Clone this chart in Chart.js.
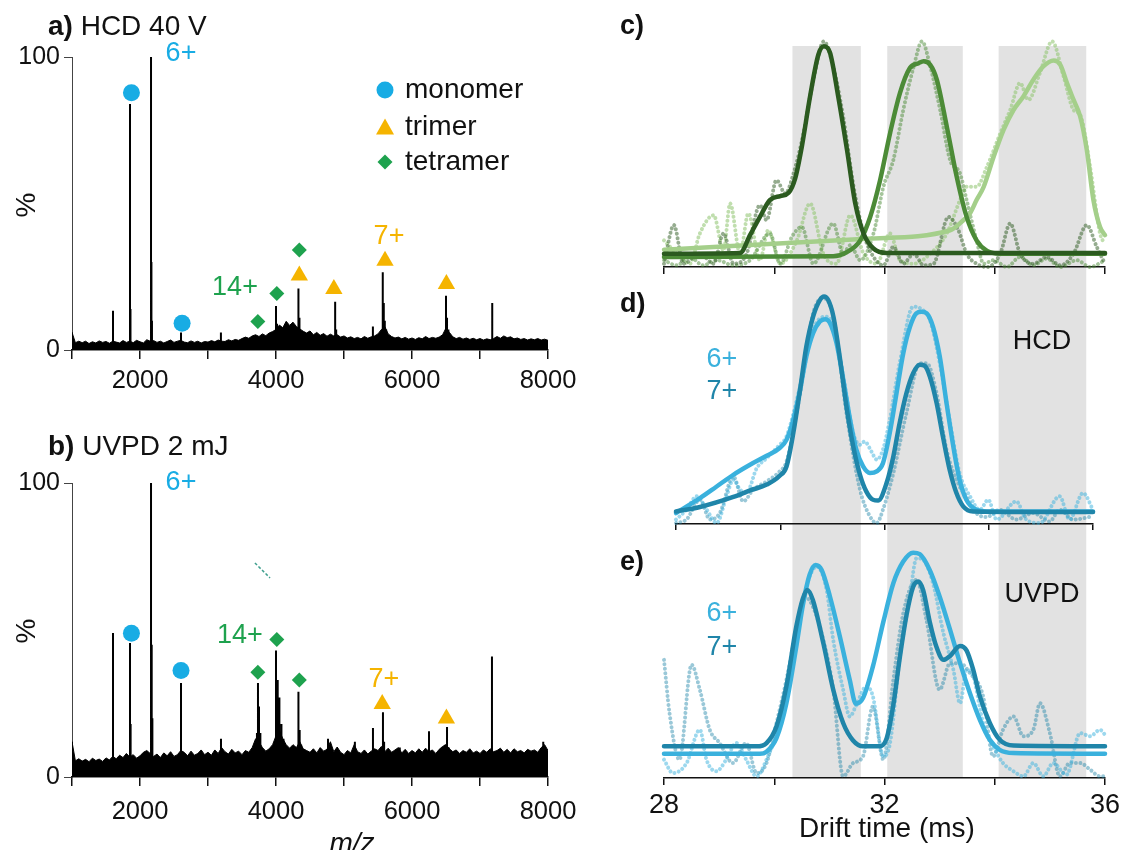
<!DOCTYPE html>
<html>
<head>
<meta charset="utf-8">
<script src="https://cdn.jsdelivr.net/npm/chart.js@4.4.1/dist/chart.umd.min.js"></script>
<style>
  body { margin: 0; background: #fff; width: 1122px; height: 850px; position: relative; overflow: hidden; }
  canvas { position: absolute; }
</style>
</head>
<body>
<canvas id="specA" width="600" height="410" style="left:0;top:0"></canvas>
<canvas id="specB" width="600" height="430" style="left:0;top:420px"></canvas>
<canvas id="atdC" width="522" height="290" style="left:600px;top:0"></canvas>
<canvas id="atdD" width="522" height="240" style="left:600px;top:290px"></canvas>
<canvas id="atdE" width="522" height="320" style="left:600px;top:530px"></canvas>
<script>
// === Données : spectres de masse (intensité en %) ===
const mzMin = 1000, mzMax = 8000, noiseStep = 50;

// bruit de fond, un point tous les 50 m/z de 1000 à 8000
const noiseA = [
  6, 2.5, 3, 2.5, 3, 2.2, 2.8, 2.4, 3.1, 2.6,
  2.9, 2.3, 3, 2.7, 2.4, 3.2, 2.6, 3, 2.5, 3.3,
  2.8, 2.4, 3.5, 3, 3.2, 2.6, 3, 2.4, 2.9, 3.4,
  2.6, 3, 3.3, 2.7, 2.5, 3.1, 2.6, 3, 2.4, 2.9,
  2.7, 3.2, 2.8, 3.4, 3, 2.9, 3.5, 3.1, 3.6, 3.3,
  3.9, 4.4, 4, 4.8, 5.2, 4.6, 5.5, 4.9, 5.8, 6.3,
  7, 8.5, 7.6, 9.8, 8.4, 9.5, 8, 7.2, 6.4, 5.8,
  6.5, 5.2, 6, 5, 5.6, 4.7, 5.4, 4.8, 5.2, 4.4,
  4.8, 4.1, 4.5, 3.9, 4.3, 3.8, 4.6, 4, 4.5, 4.8,
  5.5, 7, 8, 5.5, 4.6, 4.1, 4.4, 3.8, 4.3, 3.7,
  4.1, 3.6, 4.2, 3.8, 4.6, 3.9, 4.3, 4, 4.4, 5.2,
  7.5, 6, 4.5, 3.9, 4.3, 3.7, 4.1, 3.6, 4, 3.5,
  3.9, 3.4, 3.8, 3.5, 3.9, 4.6, 4, 4.8, 4.2, 4.5,
  3.8, 4.1, 3.6, 3.9, 3.4, 3.8, 3.5, 3.9, 3.4, 3.7,
  3.3
];
const noiseB = [
  12, 5.5, 6.2, 5.4, 6, 5.2, 6.4, 5.6, 6.1, 5.3,
  6.5, 5.8, 7, 6.2, 7.4, 6.6, 8, 6.8, 7.6, 6.4,
  7.2, 8.4, 9, 8, 7, 7.8, 6.6, 8.2, 7.2, 8.6,
  7, 7.6, 9, 8.4, 7.2, 8.8, 7.4, 8, 9.2, 7.6,
  8.4, 7.4, 9.2, 8, 10, 8.6, 7.8, 9.4, 8.2, 8.8,
  7.6, 9, 8.4, 10, 13, 12, 10, 8.8, 9.6, 11,
  14, 16, 13, 11, 9.8, 11, 10, 12, 9.6, 9,
  8.4, 9.6, 8.2, 10, 8.8, 9.4, 12, 8.6, 10.2, 8.4,
  7.6, 9, 8.2, 11, 8.6, 8, 9.2, 7.8, 8.8, 9.6,
  9, 10.4, 8.6, 9.8, 8.4, 9.2, 10, 8.2, 9.4, 8,
  9, 8.2, 9.6, 8.4, 9.8, 8.6, 9.2, 8, 9.4, 10.4,
  11, 9.6, 8.6, 9.2, 8, 9, 8.4, 9.6, 8.2, 8.8,
  8, 9.2, 8.4, 9.6, 8.6, 9, 9.8, 8.4, 9.4, 8.2,
  9.6, 8.6, 9, 8.2, 9.4, 8.8, 9.2, 8.4, 10, 11,
  9
];

// pics fins [m/z, %]
const sticksA = [[1000, 6], [1603, 13.4], [1853, 84], [1860, 14], [2162, 100], [2168, 30], [2176, 10],
  [2603, 6], [3190, 6], [4000, 15], [4015, 9], [4330, 21], [4345, 11], [4870, 16.5], [4885, 7],
  [5425, 8], [5570, 26.5], [5585, 16], [5600, 10], [5620, 7], [6500, 18.5], [6515, 11], [6535, 7], [7180, 16]];
const sticksB = [[1000, 12], [1603, 49], [1853, 45.6], [1862, 18], [2162, 100], [2172, 45], [2182, 20],
  [2603, 32], [3191, 13], [3720, 15], [3735, 32], [3750, 24], [3770, 15], [3790, 10],
  [4000, 43], [4025, 33], [4050, 27], [4080, 18], [4110, 13], [4330, 29], [4348, 16], [4370, 11],
  [4765, 13], [5160, 12], [5426, 16.7], [5573, 22], [5590, 12], [5820, 10], [6250, 15.6],
  [6490, 11], [6515, 17], [6540, 10], [7176, 41], [7930, 12]];

// symboles d'attribution [m/z, %]
const monomerA = [[1874, 87.8], [2190, 103.3], [2619, 9.1]];
const trimerA = [[4343, 25.4], [4851, 20.8], [5603, 30.5], [6506, 22.5]];
const tetramerA = [[3733, 9.7], [4012, 19.3], [4343, 34.1]];
const monomerB = [[2190, 103], [1874, 48.9], [2603, 36.2]];
const trimerB = [[5562, 24.8], [6506, 19.9]];
const tetramerB = [[3733, 35.6], [4012, 46.8], [4343, 33]];
const strayB = [[3690, 72.8], [3912, 67.7]];

// états de charge [texte, m/z, %, famille]
const chargesA = [['6+', 2603, 101.1, 'mono'], ['14+', 3397, 21.2, 'tetra'], ['7+', 5662, 38.6, 'tri']];
const chargesB = [['6+', 2603, 100.3, 'mono'], ['14+', 3470, 48, 'tetra'], ['7+', 5588, 33.3, 'tri']];

// === Données : temps de dérive [ms, intensité relative] ===
const cFitDark = [[28.00, 5.7], [29.38, 6.0], [29.56, 13.6], [29.74, 21.4], [29.92, 28.6], [30.11, 30.3],
  [30.26, 31.7], [30.38, 37.9], [30.50, 51.4], [30.65, 72.9], [30.80, 90.7], [30.90, 94.3], [31.01, 91.7],
  [31.16, 72.9], [31.32, 50.0], [31.47, 27.1], [31.62, 14.3], [31.80, 7.9], [32.04, 6.0], [36.00, 6.0]];
const cFitMid = [[28.00, 4.3], [31.07, 4.6], [31.32, 6.4], [31.56, 11.4], [31.74, 21.4], [31.92, 37.1],
  [32.10, 57.1], [32.28, 74.3], [32.46, 85.0], [32.62, 87.1], [32.71, 87.9], [32.83, 86.4], [32.95, 80.0],
  [33.13, 60.0], [33.31, 38.6], [33.49, 21.4], [33.67, 11.4], [33.86, 6.9], [34.10, 5.7], [36.00, 5.7]];
const cFitLight = [[28.00, 7.4], [31.68, 12.1], [33.19, 15.7], [33.43, 20], [33.55, 22.9], [33.67, 28.6],
  [33.80, 34.3], [33.98, 47.1], [34.16, 58.6], [34.34, 67.1], [34.52, 72.9], [34.70, 80], [34.88, 85.7],
  [35.07, 88.3], [35.19, 86.4], [35.31, 78.6], [35.43, 71.4], [35.55, 64.3], [35.67, 50], [35.79, 28.6],
  [35.91, 17.1], [36.00, 13.6]];
const cRawDark = [[28.00, 1.4], [28.18, 17.9], [28.35, 1.4], [28.65, 5.7], [28.90, 1.4], [29.08, 14.3],
  [29.26, 1.4], [29.50, 5.7], [29.74, 26.4], [29.86, 20], [30.04, 37.1], [30.20, 31.4], [30.35, 40],
  [30.53, 57.1], [30.71, 80], [30.90, 96.4], [31.07, 85.7], [31.25, 64.3], [31.44, 34.3], [31.62, 14.3],
  [31.80, 4.3], [31.98, 0.7], [32.16, 8.6], [32.34, 1.4], [32.53, 5.7], [32.71, 0.7], [32.89, 1.4],
  [33.16, 21.4], [33.34, 15.7], [33.49, 5.7], [33.67, 1.4], [33.86, 0], [34.10, 5.7], [34.28, 18.6],
  [34.46, 5.7], [34.70, 1.4], [34.94, 4.3], [35.19, 0.7], [35.43, 5.7], [35.67, 17.9], [35.85, 8.6], [36.00, 1.4]];
const cRawMid = [[28.00, 2.9], [28.23, 0.7], [28.47, 4.3], [28.71, 0.7], [28.96, 2.9], [29.26, 0.7],
  [29.56, 2.9], [29.92, 14.3], [30.11, 1.4], [30.32, 12.9], [30.50, 17.1], [30.71, 1.4], [31.07, 18.6],
  [31.25, 5.7], [31.38, 9.3], [31.56, 2.9], [31.80, 14.3], [31.98, 34.3], [32.16, 45.7], [32.34, 67.1],
  [32.53, 85.7], [32.68, 96.4], [32.83, 85.7], [33.01, 67.1], [33.19, 45.7], [33.37, 40], [33.49, 28.6],
  [33.67, 11.4], [33.80, 1.4], [33.98, 2.9], [34.22, 0], [34.46, 4.3], [34.70, 0.7], [34.94, 3.6],
  [35.19, 0], [35.49, 2.9], [35.73, 0], [36.00, 2.9]];
const cRawLight = [[28.00, 11.4], [28.23, 5.7], [28.47, 1.4], [28.65, 14.3], [28.90, 22.1], [29.08, 7.1],
  [29.20, 27.1], [29.38, 5.7], [29.53, 22.9], [29.74, 2.9], [29.89, 15.7], [30.11, 1.4], [30.41, 11.4],
  [30.65, 27.1], [30.89, 5.7], [31.13, 1.4], [31.38, 22.1], [31.62, 5.7], [31.86, 1.4], [32.10, 14.3],
  [32.28, 2.9], [32.53, 1.4], [32.83, 5.7], [33.13, 14.3], [33.37, 28.6], [33.49, 34.3], [33.67, 34.3],
  [33.86, 42.9], [34.10, 57.1], [34.28, 67.1], [34.46, 78.6], [34.61, 71.4], [34.82, 82.9], [35.04, 96.4],
  [35.25, 81.4], [35.43, 67.1], [35.55, 65], [35.73, 42.9], [35.91, 14.3], [36.00, 10]];

const dFit6 = [[28.00, 4.7], [28.46, 11.1], [28.78, 16.1], [29.10, 21.1], [29.42, 25.4], [29.74, 29.3],
  [29.99, 32.6], [30.12, 36.1], [30.25, 44.7], [30.38, 57.6], [30.50, 71.9], [30.63, 81.9], [30.76, 86.9],
  [30.86, 87.9], [30.95, 86.4], [31.08, 77.6], [31.21, 61.9], [31.34, 44.7], [31.46, 31.9], [31.59, 24.7],
  [31.72, 21.9], [31.85, 22.6], [31.97, 26.1], [32.10, 39], [32.23, 56.1], [32.36, 73.3], [32.49, 84.7],
  [32.61, 90.4], [32.71, 91.1], [32.81, 90.4], [32.93, 84.7], [33.06, 71.9], [33.19, 51.9], [33.32, 33.3],
  [33.44, 19], [33.57, 10.4], [33.76, 6.1], [33.96, 5.4], [36.00, 5.4]];
const dFit7 = [[28.00, 5.4], [28.46, 7.3], [29.10, 11.6], [29.42, 14.4], [29.74, 16.9], [29.99, 20.7],
  [30.12, 24.7], [30.25, 39], [30.38, 57.6], [30.50, 76.1], [30.63, 89], [30.76, 96.1], [30.84, 97.6],
  [30.92, 96.1], [31.02, 89], [31.14, 71.9], [31.27, 50.4], [31.40, 33.3], [31.53, 21.1], [31.65, 14],
  [31.78, 10.4], [31.88, 10.1], [32.04, 17.6], [32.17, 29], [32.29, 43.3], [32.42, 56.1], [32.55, 64.7],
  [32.68, 68.3], [32.77, 67.9], [32.87, 63.3], [33.00, 51.9], [33.12, 37.6], [33.25, 23.3], [33.38, 13.3],
  [33.51, 7.6], [33.70, 5.4], [36.00, 5.1]];
const dRaw6 = [[28.00, 1.9], [28.20, 6.1], [28.40, 11.9], [28.59, 6.1], [28.78, 0.4], [28.97, 11.9],
  [29.10, 19], [29.23, 14.7], [29.35, 13.3], [29.55, 24], [29.74, 28.3], [29.99, 34], [30.12, 37.6],
  [30.38, 59], [30.63, 83.3], [30.86, 89], [31.02, 85.4], [31.21, 63.3], [31.40, 39], [31.53, 34],
  [31.62, 35.4], [31.75, 31.1], [31.85, 27.6], [31.97, 31.9], [32.10, 44.7], [32.29, 69], [32.55, 93.3],
  [32.68, 92.6], [32.87, 87.6], [33.06, 69], [33.25, 44.7], [33.44, 21.9], [33.64, 11.9], [33.83, 6.1],
  [33.99, 10.4], [34.15, 1.9], [34.53, 9.7], [34.72, 1.9], [34.98, 0.4], [35.36, 11.9], [35.55, 1.9],
  [35.81, 13.3], [36.00, 6.1]];
const dRaw7 = [[28.00, 0.4], [28.20, 1.9], [28.46, 10.4], [28.65, 1.9], [28.84, 4.7], [29.10, 20.4],
  [29.29, 9.7], [29.48, 14.7], [29.74, 18.3], [29.99, 22.6], [30.12, 26.9], [30.38, 56.1], [30.63, 90.4],
  [30.82, 96.9], [31.02, 89], [31.27, 47.6], [31.53, 14.7], [31.72, 3.3], [31.85, 0.4], [31.97, 6.1],
  [32.17, 21.9], [32.42, 47.6], [32.68, 69], [32.81, 69], [33.00, 56.1], [33.19, 31.9], [33.44, 16.1],
  [33.57, 11.9], [33.76, 4.7], [33.96, 3], [34.21, 6.1], [34.53, 1.9], [34.85, 4.7], [35.17, 1.1],
  [35.36, 6.1], [35.62, 1.9], [36.00, 3.3]];

const eFit6 = [[28.00, 10.4], [29.74, 10.4], [29.86, 11.3], [30.04, 17.1], [30.22, 32.1], [30.40, 56.4],
  [30.52, 74.3], [30.64, 87.1], [30.75, 91.4], [30.86, 89.3], [31.01, 77.9], [31.19, 60.7], [31.37, 42.1],
  [31.48, 31.9], [31.61, 34.3], [31.79, 47.9], [31.98, 67.1], [32.16, 83.6], [32.34, 92.9], [32.52, 96.7],
  [32.64, 96.1], [32.82, 89.3], [33.00, 77.9], [33.19, 63.6], [33.37, 49.3], [33.55, 36.4], [33.73, 25],
  [33.91, 16.4], [34.09, 12.1], [34.34, 10.7], [36.00, 10.4]];
const eFit7 = [[28.00, 13.6], [29.68, 13.6], [29.86, 15], [30.04, 22.1], [30.22, 39.3], [30.40, 65],
  [30.52, 77.1], [30.60, 80.7], [30.70, 76.4], [30.89, 57.9], [31.07, 37.9], [31.25, 23.6], [31.43, 16.1],
  [31.61, 13.6], [31.92, 13.6], [32.04, 17.1], [32.16, 31.4], [32.28, 52.1], [32.40, 70], [32.52, 82.1],
  [32.61, 84.3], [32.70, 80.7], [32.82, 67.1], [32.94, 56.4], [33.07, 50.7], [33.19, 52.4], [33.37, 56.7],
  [33.49, 54.7], [33.61, 46.4], [33.73, 35], [33.91, 23.6], [34.09, 16.4], [34.34, 13.9], [36.00, 13.6]];
const eRaw6 = [[28.00, 7.9], [28.16, 2.1], [28.41, 6.4], [28.65, 20.7], [28.77, 7.9], [28.95, 2.9],
  [29.13, 7.9], [29.31, 15], [29.49, 7.9], [29.68, 0.7], [29.86, 7.9], [30.10, 23.6], [30.28, 45],
  [30.46, 69.3], [30.64, 86.4], [30.77, 90.7], [30.95, 80.7], [31.07, 59.3], [31.25, 37.9], [31.37, 26.4],
  [31.49, 31.4], [31.67, 39.3], [31.79, 35], [31.98, 9.3], [32.10, 15], [32.28, 52.1], [32.46, 77.9],
  [32.58, 94.3], [32.70, 93.6], [32.88, 83.6], [33.07, 62.1], [33.25, 46.4], [33.37, 32.1], [33.49, 46.4],
  [33.61, 43.6], [33.79, 23.6], [33.97, 13.6], [34.15, 6.4], [34.34, 2.9], [34.52, 0.7], [34.70, 6.4],
  [34.88, 0.7], [35.06, 6.4], [35.30, 1.4], [35.55, 19.3], [35.73, 17.9], [35.91, 20.7], [36.00, 18.6]];
const eRaw7 = [[28.00, 50.7], [28.10, 27.9], [28.28, 7.9], [28.50, 48.6], [28.65, 37.9], [28.83, 20.7],
  [29.01, 15], [29.25, 6.4], [29.49, 15], [29.68, 2.1], [29.86, 6.4], [30.04, 23.6], [30.22, 42.1],
  [30.40, 63.6], [30.55, 77.9], [30.70, 73.6], [30.89, 59.3], [31.07, 37.9], [31.25, 0.7], [31.43, 6.4],
  [31.61, 9.3], [31.79, 30.7], [31.98, 7.9], [32.16, 42.1], [32.34, 70.7], [32.58, 85], [32.76, 67.9],
  [33.00, 37.9], [33.19, 49.3], [33.37, 49.3], [33.55, 45], [33.79, 35], [33.97, 9.3], [34.15, 20.7],
  [34.34, 26.4], [34.52, 17.9], [34.70, 20.7], [34.82, 32.1], [35.00, 19.3], [35.18, 0.7], [35.36, 6.4],
  [35.55, 6.4], [35.73, 3.6], [35.91, 0.7], [36.00, 0.7]];

// zones grisées (ms) et graduations affichées
const bandesMs = [[30.33, 31.57], [32.05, 33.42], [34.07, 35.66]];
const tempsAffiches = [28, 32, 36];

// === Style ===
const POLICE = '"Liberation Sans", Arial, sans-serif';
const BLEU = '#18ace4', JAUNE = '#f5b400', VERT = '#1ea24e';
const couleurFamille = { mono: BLEU, tri: JAUNE, tetra: VERT };
Chart.defaults.font.family = POLICE;

const paires = a => a.map(([x, y]) => ({ x, y }));

function texte(ctx, s, x, y, taille, couleur, align, gras, italique) {
  ctx.save();
  ctx.font = (italique ? 'italic ' : '') + (gras ? 'bold ' : '') + taille + 'px ' + POLICE;
  ctx.fillStyle = couleur;
  ctx.textAlign = align || 'left';
  ctx.textBaseline = 'middle';
  ctx.fillText(s, x, y);
  ctx.restore();
}

function titre(ctx, lettre, reste, x, y, taille) {
  ctx.save();
  ctx.font = 'bold ' + taille + 'px ' + POLICE;
  const w = ctx.measureText(lettre).width;
  ctx.restore();
  texte(ctx, lettre, x, y, taille, '#111', 'left', true);
  texte(ctx, reste, x + w, y, taille, '#111', 'left');
}

function symbole(ctx, forme, x, y, couleur) {
  ctx.save();
  ctx.fillStyle = couleur;
  ctx.beginPath();
  if (forme === 'circle') ctx.arc(x, y, 8.5, 0, Math.PI * 2);
  if (forme === 'triangle') { ctx.moveTo(x, y - 8.5); ctx.lineTo(x + 9, y + 7.5); ctx.lineTo(x - 9, y + 7.5); }
  if (forme === 'rectRot') { ctx.moveTo(x, y - 7.5); ctx.lineTo(x + 7.5, y); ctx.lineTo(x, y + 7.5); ctx.lineTo(x - 7.5, y); }
  ctx.closePath();
  ctx.fill();
  ctx.restore();
}

// === Spectres de masse a) et b) ===
function spectre(id, noise, sticks, marques, charges, o) {
  const points = (data, forme, rayon, couleur) => ({
    data: paires(data), showLine: false, pointStyle: forme, pointRadius: rayon,
    pointBackgroundColor: couleur, pointBorderWidth: 0, clip: false, order: 0
  });
  const datasets = [
    points(marques.mono, 'circle', 8.5, BLEU),
    points(marques.tri, 'triangle', 10, JAUNE),
    points(marques.tetra, 'rectRot', 7.5, VERT),
    {
      data: sticks.flatMap(([m, h]) => [{ x: m, y: 0 }, { x: m, y: h }, { x: m, y: null }]),
      borderColor: '#000', borderWidth: 2, pointRadius: 0, spanGaps: false, order: 1
    },
    {
      data: noise.map((y, i) => ({ x: mzMin + i * noiseStep, y })),
      borderColor: '#000', borderWidth: 1, backgroundColor: '#000', fill: 'origin', pointRadius: 0, order: 2
    }
  ];
  if (o.stray) datasets.push({ data: paires(o.stray), borderColor: '#3f9f8e', borderWidth: 1.5, borderDash: [3, 2], pointRadius: 0, order: 1 });

  return new Chart(document.getElementById(id), {
    type: 'line',
    data: { datasets },
    options: {
      responsive: false, animation: false, devicePixelRatio: 1, events: [],
      layout: { padding: { top: o.top, right: 52, left: 0, bottom: 0 } },
      plugins: { legend: { display: false }, tooltip: { enabled: false } },
      scales: {
        x: {
          type: 'linear', min: mzMin, max: mzMax,
          ticks: { stepSize: 1000, autoSkip: false, maxRotation: 0, padding: o.tickPad, color: '#111', font: { size: 25.5 },
                   callback: v => v % 2000 === 0 ? v : '' },
          grid: { drawOnChartArea: false, tickLength: 9, color: '#111', lineWidth: 1.5 },
          border: { color: '#111', width: 1.5 },
          afterFit: s => { s.height = o.xH; s.paddingLeft = 0; s.paddingRight = 0; }
        },
        y: {
          min: 0, max: 100,
          ticks: { stepSize: 100, padding: 4, color: '#111', font: { size: 25 } },
          grid: { drawOnChartArea: false, tickLength: 8, color: '#444', lineWidth: 1 },
          border: { color: '#444', width: 1 },
          afterFit: s => { s.width = 72; }
        }
      }
    },
    plugins: [{
      id: 'annotations',
      afterDraw(chart) {
        const ctx = chart.ctx, sx = chart.scales.x, sy = chart.scales.y;
        titre(ctx, o.lettre, o.titre, 48, 27, 28);
        ctx.save();
        ctx.translate(27, o.pctY);
        ctx.rotate(-Math.PI / 2);
        texte(ctx, '%', 0, 0, 28, '#111', 'center');
        ctx.restore();
        charges.forEach(([s, m, v, f]) => texte(ctx, s, sx.getPixelForValue(m), sy.getPixelForValue(v), 27, couleurFamille[f], 'center'));
        if (o.legende) {
          [['circle', 'monomer', 90, BLEU], ['triangle', 'trimer', 127, JAUNE], ['rectRot', 'tetramer', 162, VERT]]
            .forEach(([forme, nom, y, c]) => {
              symbole(ctx, forme, 385, y, c);
              texte(ctx, nom, 405, y, 28, '#111');
            });
        }
        if (o.mz) texte(ctx, 'm/z', 352, 424, 28, '#111', 'center', false, true);
      }
    }]
  });
}

spectre('specA', noiseA, sticksA, { mono: monomerA, tri: trimerA, tetra: tetramerA }, chargesA,
  { top: 57, xH: 60, tickPad: 7, lettre: 'a)', titre: ' HCD 40 V', pctY: 205, legende: true });
spectre('specB', noiseB, sticksB, { mono: monomerB, tri: trimerB, tetra: tetramerB }, chargesB,
  { top: 63, xH: 73, tickPad: 11, lettre: 'b)', titre: ' UVPD 2 mJ', pctY: 211, mz: true, stray: strayB });

// === Temps de dérive c), d), e) ===
function trace(data, couleur, pointille) {
  const base = { data: paires(data), borderColor: couleur, pointRadius: 0, cubicInterpolationMode: 'monotone', fill: false, clip: false };
  return pointille
    ? Object.assign(base, { borderWidth: 4, borderDash: [0.01, 4.5], borderCapStyle: 'round', order: 2 })
    : Object.assign(base, { borderWidth: 4.5, borderCapStyle: 'round', order: 1 });
}

function derive(id, traces, o) {
  return new Chart(document.getElementById(id), {
    type: 'line',
    data: { datasets: traces },
    options: {
      responsive: false, animation: false, devicePixelRatio: 1, events: [],
      layout: { padding: { top: o.top, left: o.left, right: o.right, bottom: 0 } },
      plugins: { legend: { display: false }, tooltip: { enabled: false } },
      scales: {
        x: {
          type: 'linear', min: 28, max: 36,
          ticks: { stepSize: 2, autoSkip: false, maxRotation: 0, padding: 4, color: '#111', font: { size: 27 },
                   callback: v => o.etiquettes && tempsAffiches.includes(v) ? v : '' },
          grid: { drawOnChartArea: false, tickLength: 7, color: '#111', lineWidth: 1.5 },
          border: { color: '#111', width: 1.5 },
          afterFit: s => { s.height = o.xH; s.paddingLeft = 0; s.paddingRight = 0; }
        },
        y: { display: false, min: 0, max: 100 }
      }
    },
    plugins: [{
      id: 'bandes',
      beforeDraw(chart) {
        const sx = (o.ref ? o.ref() : chart).scales.x, ctx = chart.ctx;
        const y1 = o.basBandes === 'axe' ? chart.chartArea.bottom : chart.height;
        ctx.save();
        ctx.fillStyle = '#e2e2e2';
        bandesMs.forEach(([a, b]) => {
          const x0 = sx.getPixelForValue(a), x1 = sx.getPixelForValue(b);
          ctx.fillRect(x0, o.hautBandes, x1 - x0, y1 - o.hautBandes);
        });
        ctx.restore();
      },
      afterDraw(chart) {
        const ctx = chart.ctx;
        texte(ctx, o.lettre, 20, o.lettreY, 27, '#111', 'left', true);
        (o.textes || []).forEach(([s, x, y, c]) => texte(ctx, s, x, y, 27, c, 'center'));
        if (o.titreX) texte(ctx, 'Drift time (ms)', 287, 299, 28, '#111', 'center');
      }
    }]
  });
}

const C6 = '#3ab1dd', C7 = '#1f85a9';
const chartC = derive('atdC', [
  trace(cFitDark, '#2b5a1f'), trace(cFitMid, '#4c8b37'), trace(cFitLight, '#a4cf8a'),
  trace(cRawDark, 'rgba(43,90,31,0.5)', true), trace(cRawMid, 'rgba(76,139,55,0.5)', true),
  trace(cRawLight, 'rgba(150,200,120,0.6)', true)
], { top: 33, left: 64, right: 17, xH: 23, hautBandes: 46, lettre: 'c)', lettreY: 27 });

derive('atdD', [
  trace(dFit7, C7), trace(dFit6, C6),
  trace(dRaw6, 'rgba(58,177,221,0.5)', true), trace(dRaw7, 'rgba(31,133,169,0.45)', true)
], { top: 1, left: 76, right: 29, xH: 6, hautBandes: 0, ref: () => chartC, lettre: 'd)', lettreY: 15,
     textes: [['HCD', 442, 52, '#111'], ['6+', 122, 70, C6], ['7+', 122, 102, C7]] });

derive('atdE', [
  trace(eFit7, C7), trace(eFit6, C6),
  trace(eRaw6, 'rgba(58,177,221,0.5)', true), trace(eRaw7, 'rgba(31,133,169,0.45)', true)
], { top: 15, left: 64, right: 17, xH: 72, hautBandes: 0, basBandes: 'axe', lettre: 'e)', lettreY: 33, etiquettes: true, titreX: true,
     textes: [['UVPD', 442, 65, '#111'], ['6+', 122, 84, C6], ['7+', 122, 118, C7]] });
</script>
</body>
</html>
